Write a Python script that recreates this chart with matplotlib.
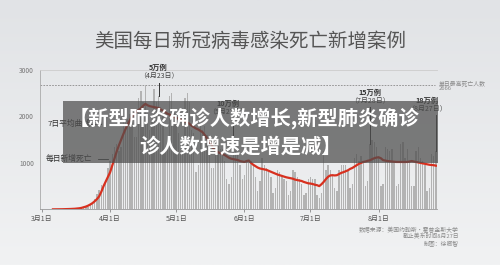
import numpy as np
import matplotlib.pyplot as plt
from matplotlib.patches import Rectangle

plt.rcParams['font.family'] = ['Noto Sans CJK SC', 'DejaVu Sans']

# daily new deaths, Mar 1 .. Aug 27
deaths_mar = [0, 1, 1, 2, 3, 2, 3, 4, 4, 6, 8, 10, 12, 12, 8, 12, 22, 30, 45, 55, 60,
              60, 110, 160, 230, 330, 420, 520, 480, 620, 900]
deaths_apr = [1050, 1200, 1350, 1400, 1250, 1350, 1950, 1950, 1950, 2050, 1900, 1550, 1550,
              2400, 2550, 2300, 2666, 2000, 1700, 1900, 2600, 2300, 2450, 2200, 2100, 1250,
              1400, 2450, 2500, 2150]
deaths_may = [1950, 1650, 1250, 1300, 2400, 2500, 2300, 1700, 1650, 800, 950, 1800, 1700,
              1800, 1600, 1250, 900, 900, 1550, 1500, 1300, 1300, 1050, 650, 550, 700, 1500,
              1250, 1200, 950, 650]
deaths_jun = [750, 1050, 1000, 1050, 950, 700, 400, 600, 1100, 950, 900, 800, 700, 350, 450,
              850, 800, 700, 650, 600, 300, 400, 850, 800, 700, 650, 550, 300, 350, 650]
deaths_jul = [700, 650, 650, 300, 250, 350, 1250, 850, 950, 850, 750, 450, 400, 850, 950, 950,
              950, 850, 450, 550, 1100, 1200, 1050, 1150, 1050, 500, 600, 1400, 1500, 1450, 1350]
deaths_aug = [1150, 500, 550, 1350, 1300, 1250, 1300, 1050, 500, 550, 1400, 1450, 1100, 1300,
              1050, 500, 500, 1250, 1350, 1100, 1050, 950, 400, 450, 1200, 1150, 1250]

# 7-day average curve
avg_mar = [np.nan] * 5 + [0, 0, 1, 1, 2, 3, 4, 6, 8, 10, 13, 17, 23, 32, 45, 60, 80, 105, 135,
                          175, 220, 280, 380, 500, 600, 700]
avg_apr = [800, 950, 1100, 1250, 1380, 1500, 1620, 1730, 1830, 1920, 2000, 2060, 2100, 2140,
           2180, 2230, 2270, 2240, 2220, 2210, 2200, 2190, 2180, 2150, 2120, 2090, 2060, 2040,
           2010, 1990]
avg_may = [1970, 1950, 1930, 1910, 1890, 1870, 1840, 1800, 1770, 1740, 1720, 1690, 1660, 1600,
           1530, 1460, 1400, 1300, 1260, 1230, 1210, 1190, 1170, 1140, 1110, 1090, 1080, 1070,
           1060, 1040, 1030]
avg_jun = [1020, 1040, 1050, 1000, 960, 930, 900, 880, 870, 860, 850, 830, 810, 790, 770, 750,
           735, 720, 705, 690, 680, 670, 660, 640, 630, 620, 610, 590, 575, 560]
avg_jul = [555, 545, 530, 520, 500, 540, 590, 650, 700, 730, 735, 730, 735, 760, 785, 800, 820,
           840, 870, 890, 920, 950, 980, 1000, 1020, 1030, 1045, 1055, 1080, 1100, 1115]
avg_aug = [1120, 1100, 1060, 1050, 1040, 1035, 1030, 1025, 1020, 1020, 1020, 1020, 1020, 1020,
           1030, 1040, 1030, 1020, 1010, 1000, 990, 980, 970, 960, 955, 950, 940]

daily = np.array(deaths_mar + deaths_apr + deaths_may + deaths_jun + deaths_jul + deaths_aug)
avg7 = np.array(avg_mar + avg_apr + avg_may + avg_jun + avg_jul + avg_aug)
days = np.arange(len(daily))

tick_days = [0, 31, 61, 92, 122, 153]
tick_labels = ['3月1日', '4月1日', '5月1日', '6月1日', '7月1日', '8月1日']

max_deaths = 2666
milestone_days = [53, 87, 149, 179]
milestone_cases = ['5万例', '10万例', '15万例', '18万例']
milestone_dates = ['（4月23日）', '（5月27日）', '（7月28日）', '（8月27日）']
milestone_text_y = [3050, 2280, 2520, 2340]

fig = plt.figure(figsize=(5, 2.65), dpi=100)

# soft grey background
bg = fig.add_axes([0, 0, 1, 1], zorder=-10)
grad = np.linspace(0, 1, 100).reshape(-1, 1)
bg.imshow(grad, aspect='auto', cmap=plt.matplotlib.colors.LinearSegmentedColormap.from_list(
    'g', ['#e1e3e6', '#f1f2f3']), extent=[0, 1, 0, 1])
bg.axis('off')

ax = fig.add_axes([0.079, 0.21, 0.795, 0.526])
ax.patch.set_alpha(0)
ax.bar(days, daily, width=0.62, color='#b3b3b3', zorder=2)
ax.plot(days, avg7, color='#d7301f', lw=1.6, zorder=3)
ax.axhline(max_deaths, xmin=0, xmax=0.995, color='#8a8a8a', lw=0.6, ls=(0, (2, 1.5)), zorder=1)
ax.text(180.5, max_deaths, '单日最高死亡人数\n' + str(max_deaths), fontsize=4.2, color='#888888',
        va='center', ha='left', linespacing=1.1, clip_on=False)

for d, c, dt, ty in zip(milestone_days, milestone_cases, milestone_dates, milestone_text_y):
    tx = d if d < 170 else d - 4
    if d == 87:
        tx = d - 2.5
    ax.text(tx, ty, c, fontsize=5.2, fontweight='bold', color='#333333', ha='center', va='center',
            clip_on=False)
    ax.text(tx, ty - 175, dt, fontsize=5, color='#444444', ha='center', va='center', clip_on=False)
    ax.plot([d, d], [ty - 320, daily[d]], color='#333333', lw=0.7, zorder=4, clip_on=False)

ax.text(2.5, 1830, '7日平均曲线', fontsize=5.6, color='#333333', va='center', ha='left')
ax.plot([22.5, 27], [1830, 1830], color='#333333', lw=0.6)
ax.text(1.5, 1080, '每日新增死亡', fontsize=5.6, color='#333333', va='center', ha='left')
ax.plot([25.5, 30], [1080, 1080], color='#333333', lw=0.6)

ax.set_xlim(-1.1, 179.5)
ax.set_ylim(0, 3000)
ax.set_yticks([1000, 2000, 3000])
ax.set_yticklabels(['1000', '2000', '3000'], fontsize=4.8, color='#777777')
ax.set_xticks(tick_days)
ax.set_xticklabels(tick_labels, fontsize=5, color='#555555')
ax.tick_params(axis='y', length=0, pad=4)
ax.tick_params(axis='x', length=2.5, width=0.6, color='#888888', pad=1.5)
ax.spines['right'].set_visible(False)
ax.spines['top'].set_color('#cccccc')
ax.spines['top'].set_linewidth(0.6)
ax.spines['left'].set_color('#aaaaaa')
ax.spines['left'].set_linewidth(0.6)
ax.spines['bottom'].set_color('#999999')
ax.spines['bottom'].set_linewidth(0.6)

fig.text(0.5, 0.845, '美国每日新冠病毒感染死亡新增案例', fontsize=14, color='#555555',
         ha='center', va='center')
fig.text(0.918, 0.108, '数据来源：美国约翰斯·霍普金斯大学\n截止美东时间8月27日\n制图：徐卿智',
         fontsize=4.2, color='#8a8a8a', ha='right', va='center', linespacing=1.15)

# headline banner
fig.patches.append(Rectangle((0.126, 0.385), 0.75, 0.234, transform=fig.transFigure,
                             facecolor='#4d4d4d', alpha=0.72, zorder=5))
fig.text(0.488, 0.555, '【新型肺炎确诊人数增长,新型肺炎确诊', fontsize=14.6, fontweight='heavy',
         color='white', ha='center', va='center', zorder=6)
fig.text(0.481, 0.449, '诊人数增速是增是减】', fontsize=14.6, fontweight='heavy',
         color='white', ha='center', va='center', zorder=6)

fig.savefig('out.png', dpi=100)
